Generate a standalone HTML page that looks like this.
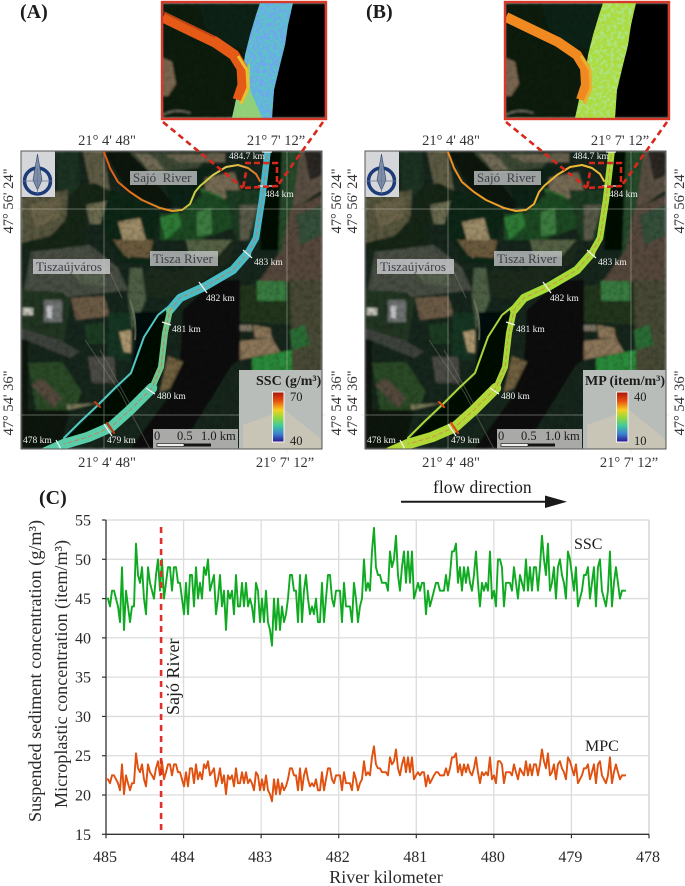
<!DOCTYPE html>
<html lang="en">
<head>
<meta charset="utf-8">
<title>Suspended sediment and microplastic concentration maps</title>
<style>
html,body{margin:0;padding:0;background:#fff;width:685px;height:886px;overflow:hidden}
svg{display:block}
text{font-family:"Liberation Serif","DejaVu Serif",serif;fill:#1c1c1c}
.coord{font-size:14.5px;fill:#333}
.km{font-size:9.5px;fill:#f2f2f2}
.lab{font-size:13px;fill:#3d3d46}
.tick{font-size:16px;fill:#2a2a2a}
.title{font-size:18px;fill:#2a2a2a}
</style>
</head>
<body>
<svg id="figure" xmlns="http://www.w3.org/2000/svg" width="685" height="886" viewBox="0 0 685 886">
<defs>
  <linearGradient id="cbar" x1="0" y1="0" x2="0" y2="1">
    <stop offset="0" stop-color="#a81408"/><stop offset=".18" stop-color="#e8500f"/><stop offset=".36" stop-color="#f4d020"/>
    <stop offset=".52" stop-color="#8fd840"/><stop offset=".68" stop-color="#3fc8a0"/><stop offset=".84" stop-color="#3c80d0"/><stop offset="1" stop-color="#2a1490"/>
  </linearGradient>
  <linearGradient id="sajo-a" gradientUnits="userSpaceOnUse" x1="105" y1="153" x2="260" y2="180">
    <stop offset="0" stop-color="#e05a18"/><stop offset=".45" stop-color="#e88a20"/><stop offset=".6" stop-color="#c8d040"/><stop offset=".8" stop-color="#e0c850"/><stop offset="1" stop-color="#e06a20"/>
  </linearGradient>
  <linearGradient id="sajo-b" gradientUnits="userSpaceOnUse" x1="105" y1="153" x2="260" y2="180">
    <stop offset="0" stop-color="#ee8a20"/><stop offset=".6" stop-color="#eeb030"/><stop offset="1" stop-color="#f0c040"/>
  </linearGradient>
  <filter id="soft" x="-2%" y="-2%" width="104%" height="104%"><feGaussianBlur stdDeviation="1.1"/></filter>
  <filter id="tex" x="0" y="0" width="100%" height="100%">
    <feTurbulence type="fractalNoise" baseFrequency="0.2" numOctaves="3" seed="4"/>
    <feColorMatrix type="matrix" values="0 0 0 0 0  0 0 0 0 0  0 0 0 0 0  1.6 0 0 0 -0.62"/>
  </filter>
  <filter id="speck-a" x="0" y="0" width="100%" height="100%">
    <feTurbulence type="fractalNoise" baseFrequency="0.3" numOctaves="2" seed="7"/>
    <feColorMatrix type="matrix" values="0 0 0 0 .16  0 0 0 0 .38  0 0 0 0 .85  6 0 0 0 -2.6"/>
    <feComposite in2="SourceAlpha" operator="in"/>
    <feMerge><feMergeNode in="SourceGraphic"/><feMergeNode/></feMerge>
  </filter>
  <filter id="speck-b" x="0" y="0" width="100%" height="100%">
    <feTurbulence type="fractalNoise" baseFrequency="0.28" numOctaves="2" seed="9"/>
    <feColorMatrix type="matrix" values="0 0 0 0 .42  0 0 0 0 .76  0 0 0 0 .22  5 0 0 0 -2.3"/>
    <feComposite in2="SourceAlpha" operator="in"/>
    <feMerge><feMergeNode in="SourceGraphic"/><feMergeNode/></feMerge>
  </filter>
  <clipPath id="panel-clip"><rect x="21" y="151" width="301" height="298"/></clipPath>
  <clipPath id="inset-clip"><rect x="162" y="3" width="164" height="115"/></clipPath>

  <path id="tisza-upper" d="M268,148 L262,200 L256,238 L247,254"/>
  <path id="tisza-mid" d="M247,254 L233,270 L204,287 L180,298 L170,310"/>
  <path id="tisza-narrow" d="M170,310 L165,333 L161,367 L152,388"/>
  <path id="tisza-lower" d="M152,388 L130,410 L111,427 L88,437 L64,444 L46,452"/>
  <path id="tisza-center" d="M268,148 L262,200 L256,238 L247,254 L233,270 L204,287 L180,298 L170,310 L165,333 L161,367 L152,388 L130,410 L111,427 L88,437 L64,444"/>
  <path id="channel-path" d="M168,307 L158,315 L144,337 L131,373 L115,388 L98,405 L80,422 L64,438"/>
  <path id="sajo-path" d="M104,152 L110,168 L118,182 L130,192 L142,200 L160,208 L172,211 L182,210 L190,204 L195,192 L200,186 L213,175 L226,167 L238,165 L248,168 L256,174 L260,181"/>
  <path id="sajo-inset" d="M163,17 L190,30 L215,42 L234,55 L242,68 L243,85 L238,100"/>

  <g id="map-bg" clip-path="url(#panel-clip)">
    <g filter="url(#soft)">
      <rect x="21" y="151" width="301" height="298" fill="#16261a"/>
      <polygon points="55,151 78,151 80,185 60,206" fill="#1c3020"/>
      <polygon points="83,151 103,151 110,190 90,185" fill="#5c5a42"/>
      <polygon points="21,197 68,190 66,225 45,240 21,243" fill="#56553e"/>
      <polygon points="30,205 60,198 60,218 35,228" fill="#6b6349"/>
      <polygon points="78,187 95,183 112,192 118,205 95,205 85,222 85,245 62,250 41,250 21,250 21,243 50,236 64,222" fill="#132817"/>
      <polygon points="86,205 112,200 127,215 112,224 90,224" fill="#6a6a50"/>
      <polygon points="104,151 130,151 170,200 172,210 130,195" fill="#0c1810"/>
      <polygon points="130,153 190,153 205,160 195,172 150,172" fill="#3c4a34"/>
      <polygon points="135,153 152,155 165,170 148,170" fill="#6f6a55"/>
      <polygon points="165,155 225,153 225,162 180,162" fill="#6a6350"/>
      <polygon points="160,172 215,166 197,190 185,206 172,206" fill="#0f2016"/>
      <polygon points="110,190 140,200 160,212 150,265 122,262 100,225" fill="#102618"/>
      <polygon points="118,222 140,218 148,248 128,258" fill="#9c8c68"/>
      <polygon points="205,178 234,172 240,190 222,200 205,195" fill="#756a52"/>
      <polygon points="200,188 222,196 226,208 208,212" fill="#2a6a30"/>
      <polygon points="160,214 180,214 205,192 240,205 240,225 200,240 160,240" fill="#1c4a24"/>
      <polygon points="197,212 211,208 212,234 197,236" fill="#3d7c3f"/>
      <polygon points="160,218 178,212 182,226 165,240" fill="#2f7a34"/>
      <polygon points="225,190 262,190 258,240 236,240" fill="#1c3a20"/>
      <polygon points="240,205 258,205 248,240 240,240" fill="#5a5a48"/>
      <polygon points="264,151 285,151 283,250 260,250" fill="#040706"/>
      <polygon points="282,151 300,151 292,250 278,258" fill="#264a2a"/>
      <polygon points="300,151 322,151 322,190 292,210" fill="#5a5042"/>
      <polygon points="304,151 322,151 322,175 310,180" fill="#2c2620"/>
      <polygon points="290,210 322,195 322,290 252,290 282,250" fill="#54463a"/>
      <polygon points="296,215 322,205 322,235 300,245" fill="#34503a"/>
      <polygon points="238,286 290,282 296,325 240,322" fill="#22361f"/>
      <polygon points="257,281 286,281 286,301 257,301" fill="#397a40"/>
      <polygon points="290,280 322,280 322,372 292,372" fill="#464836"/>
      <polygon points="217,325 252,325 252,331 217,331" fill="#7c7464"/>
      <polygon points="253,325 270,328 272,338 255,338" fill="#8a7458"/>
      <polygon points="230,342 272,338 280,352 238,360" fill="#8a7458"/>
      <polygon points="252,358 292,350 292,372 252,372" fill="#2c8a3a"/>
      <polygon points="290,330 305,325 310,345 292,350" fill="#2c6c36"/>
      <polygon points="215,280 240,280 240,360 238,375 205,440 180,449 130,449 170,395 180,360 183,310" fill="#090f0a"/>
      <polygon points="232,365 240,360 240,430 195,449 180,449" fill="#14281a"/>
      <polygon points="175,272 195,265 215,250 225,240 235,240 230,262 190,290 172,298 150,298 138,285 150,268" fill="#1a2c1c"/>
      <polygon points="186,240 232,240 218,256 190,256" fill="#566244"/>
      <polygon points="113,240 153,240 150,258 125,256" fill="#6a5a3c"/>
      <polygon points="130,268 142,268 146,300 132,330 128,295" fill="#4e5e44"/>
      <polygon points="31,252 90,245 118,268 128,290 62,298 24,290" fill="#474d42"/>
      <polygon points="60,262 100,262 108,286 82,284" fill="#555f4e"/>
      <polygon points="21,290 62,292 71,300 64,343 21,332" fill="#243424"/>
      <polygon points="71,298 104,296 110,316 76,320" fill="#6a5a44"/>
      <polygon points="44,300 62,300 62,322 44,322" fill="#6e7270"/>
      <polygon points="47,306 52,306 52,318 47,318" fill="#c4c8c8"/>
      <polygon points="23,308 33,308 33,315 23,315" fill="#c8c8be"/>
      <polygon points="21,328 60,340 80,352 70,358 21,338" fill="#3e423c"/>
      <polygon points="84,325 104,322 106,344 88,344" fill="#1c3a20"/>
      <polygon points="108,313 131,313 131,360 108,360" fill="#183420"/>
      <polygon points="119,332 131,330 131,353 124,352" fill="#ac9670"/>
      <polygon points="134,312 160,312 165,340 160,380 150,392 130,375 136,340" fill="#060a07"/>
      <polygon points="168,310 158,318 144,340 131,375 98,407 64,440 110,430 151,392 161,367 165,335" fill="#050806"/>
      <polygon points="88,357 114,357 116,383 92,383" fill="#4c4c44"/>
      <polygon points="28,363 62,362 82,392 74,410 36,410" fill="#2c4a28"/>
      <polygon points="31,385 42,378 62,398 54,408" fill="#54493c"/>
      <polygon points="21,340 28,340 28,449 21,449" fill="#0e180f"/>
      <polygon points="168,356 183,362 170,388 160,392" fill="#70603f"/>
      <polygon points="66,405 98,403 68,410" fill="#7c7a5c"/>
      <polygon points="21,410 70,410 60,449 21,449" fill="#0c150d"/>
    </g>
    <rect x="21" y="151" width="301" height="298" filter="url(#tex)" opacity=".26"/>
    <path d="M60,272 L108,268 L122,298 M85,340 L120,392 L150,449 M100,350 L132,408" fill="none" stroke="#77766a" stroke-width="1" opacity=".55"/>
    <path d="M130,300 Q137,320 135,340" fill="none" stroke="#7c826c" stroke-width="2" opacity=".6"/>
  </g>

  <g id="map-grid" stroke="#d8d8d0" stroke-width=".7" opacity=".55" fill="none">
    <path d="M104,147 V453 M287,147 V453 M17,209 H326 M17,415 H326"/>
  </g>

  <g id="river-ticks" stroke="#f4f4f4" stroke-width="1.2" fill="none">
    <path d="M243,250 L252,258 M199,282 L207,293 M162,322 L171,325 M146,388 L155,394 M104,424 L112,436 M56,440 L62,451"/>
    <path d="M258,186 L272,186 M262,152 L272,152"/>
  </g>

  <g id="km-labels">
    <text class="km" x="229" y="159">484.7 km</text>
    <text class="km" x="265" y="197">484 km</text>
    <text class="km" x="254" y="265">483 km</text>
    <text class="km" x="206" y="301">482 km</text>
    <text class="km" x="172" y="332">481 km</text>
    <text class="km" x="157" y="399">480 km</text>
    <text class="km" x="107" y="443">479 km</text>
    <text class="km" x="23" y="443">478 km</text>
  </g>

  <g id="place-labels">
    <rect x="130" y="171" width="67" height="14" fill="#c4c6c8" opacity=".78"/>
    <text class="lab" x="133" y="182">Sajó&#160;&#160;River</text>
    <rect x="150" y="251" width="68" height="15" fill="#c4c6c8" opacity=".78"/>
    <text class="lab" x="153" y="263">Tisza River</text>
    <rect x="33" y="259" width="77" height="15" fill="#c4c6c8" opacity=".85"/>
    <text class="lab" x="36" y="271">Tiszaújváros</text>
  </g>

  <g id="north-badge">
    <rect x="21" y="151" width="34" height="46" fill="#d4d6da"/>
    <circle cx="37.5" cy="181" r="13" fill="none" stroke="#1c3a78" stroke-width="3.5"/>
    <path d="M37.5,154 L33,180 L37.5,190 L42,180 Z" fill="#7c8ca8" stroke="#34466e" stroke-width=".6"/>
    <path d="M23,181 H52 M37.5,168 V194" stroke="#6a7a94" stroke-width=".7"/>
  </g>

  <g id="scale-bar">
    <rect x="153" y="429" width="85" height="20" fill="#a9aaa8"/>
    <text x="154" y="440" font-size="12.5" fill="#333">0</text>
    <text x="177" y="440" font-size="12.5" fill="#333">0.5</text>
    <text x="201" y="440" font-size="12.5" fill="#333">1.0 km</text>
    <rect x="157" y="443.5" width="27" height="3" fill="#eee" stroke="#222" stroke-width=".7"/>
    <rect x="184" y="443.5" width="27" height="3" fill="#151515"/>
  </g>

  <g id="inset-base" clip-path="url(#inset-clip)">
    <g filter="url(#soft)">
      <rect x="162" y="3" width="164" height="115" fill="#0a1a0f"/>
      <polygon points="262,3 326,3 326,118 262,118" fill="#010201"/>
      <polygon points="163,58 172,62 176,84 168,96 163,96" fill="#7a6650"/>
      <path d="M163,115 Q175,108 190,113" fill="none" stroke="#8a8a78" stroke-width="1.2"/>
      <polygon points="198,3 260,3 248,50 228,46 205,28" fill="#0a2012"/>
    </g>
    <rect x="162" y="3" width="110" height="115" filter="url(#tex)" opacity=".2"/>
  </g>

  <polygon id="inset-river" points="260,3 293,3 288,25 285,45 280,65 274,90 272,118 232,118 237,95 242,75 245,55 250,35 256,15"/>
</defs>

<g id="panel-a">
  <use href="#map-bg"/>
  <use href="#map-grid"/>
  <g clip-path="url(#panel-clip)" fill="none" stroke-linejoin="round" stroke-linecap="round">
    <use href="#sajo-path" stroke="url(#sajo-a)" stroke-width="2"/>
    <use href="#channel-path" stroke="#52c8c4" stroke-width="2"/>
    <use href="#tisza-upper" stroke="#46b8ca" stroke-width="6.5"/>
    <use href="#tisza-mid" stroke="#4abcc4" stroke-width="8.5"/>
    <use href="#tisza-narrow" stroke="#6cc88c" stroke-width="6"/>
    <use href="#tisza-lower" stroke="#5acca8" stroke-width="10.5"/>
    <use href="#tisza-center" stroke="#d87050" stroke-width=".8" stroke-dasharray="4 3"/>
    <path d="M107,423 L114,433 M95,402 L100,407" stroke="#b83a18" stroke-width="2.2"/>
  </g>
  <use href="#river-ticks"/>
  <use href="#km-labels"/>
  <use href="#place-labels"/>
  <use href="#north-badge"/>
  <use href="#scale-bar"/>
  <g>
    <rect x="239" y="370" width="83" height="79" fill="#b9bdba"/>
    <polygon points="243,425 285,410 322,440 322,449 243,449" fill="#c9c5b6"/>
    <text x="256" y="385" font-size="14" font-weight="bold" fill="#2a2a2a">SSC (g/m³)</text>
    <rect x="272.5" y="392" width="11.5" height="50" fill="url(#cbar)" stroke="#f4f4f4" stroke-width="1"/>
    <text x="290" y="401" font-size="12.5" fill="#333">70</text>
    <text x="290" y="445" font-size="12.5" fill="#333">40</text>
  </g>
  <rect x="21" y="151" width="301" height="298" fill="none" stroke="#555" stroke-width="1"/>
</g>

<g id="panel-b" transform="translate(344,0)">
  <use href="#map-bg"/>
  <use href="#map-grid"/>
  <g clip-path="url(#panel-clip)" fill="none" stroke-linejoin="round" stroke-linecap="round">
    <use href="#sajo-path" stroke="url(#sajo-b)" stroke-width="2"/>
    <use href="#channel-path" stroke="#a8d63a" stroke-width="2"/>
    <use href="#tisza-upper" stroke="#a6da38" stroke-width="6.5"/>
    <use href="#tisza-mid" stroke="#a6da38" stroke-width="8.5"/>
    <use href="#tisza-narrow" stroke="#a6d838" stroke-width="6"/>
    <use href="#tisza-lower" stroke="#b0d838" stroke-width="10.5"/>
    <use href="#tisza-center" stroke="#e08040" stroke-width=".8" stroke-dasharray="4 3"/>
    <path d="M107,423 L114,433 M95,402 L100,407" stroke="#d84a18" stroke-width="2.2"/>
  </g>
  <use href="#river-ticks"/>
  <use href="#km-labels"/>
  <use href="#place-labels"/>
  <use href="#north-badge"/>
  <use href="#scale-bar"/>
  <g>
    <rect x="239" y="370" width="83" height="79" fill="#b9bdba"/>
    <polygon points="243,425 285,410 322,440 322,449 243,449" fill="#c9c5b6"/>
    <text x="241" y="385" font-size="14" font-weight="bold" fill="#2a2a2a">MP (item/m³)</text>
    <rect x="272.5" y="392" width="11.5" height="50" fill="url(#cbar)" stroke="#f4f4f4" stroke-width="1"/>
    <text x="290" y="401" font-size="12.5" fill="#333">40</text>
    <text x="290" y="445" font-size="12.5" fill="#333">10</text>
  </g>
  <rect x="21" y="151" width="301" height="298" fill="none" stroke="#555" stroke-width="1"/>
</g>

<g>
  <use href="#inset-base"/>
  <g clip-path="url(#inset-clip)">
    <use href="#inset-river" fill="#5cc2c8" filter="url(#speck-a)"/>
    <polygon points="232,118 237,95 242,75 250,62 250,90 262,118" fill="#a0d858" opacity=".75"/>
    <use href="#sajo-inset" fill="none" stroke="#e65a18" stroke-width="11" stroke-linejoin="round"/>
    <path d="M163,12 L190,25 L215,37" fill="none" stroke="#a83a14" stroke-width="2" opacity=".7"/>
    <path d="M238,56 L247,70 L248,88 L241,104" fill="none" stroke="#e8c030" stroke-width="3"/>
  </g>
  <rect x="162" y="2" width="164" height="117" fill="none" stroke="#d83a2a" stroke-width="2.4"/>
</g>
<g transform="translate(343,0)">
  <use href="#inset-base"/>
  <g clip-path="url(#inset-clip)">
    <use href="#inset-river" fill="#acdc3c" filter="url(#speck-b)"/>
    <use href="#sajo-inset" fill="none" stroke="#f08a20" stroke-width="10" stroke-linejoin="round"/>
    <path d="M238,56 L247,70 L248,88 L241,104" fill="none" stroke="#e8b030" stroke-width="3"/>
  </g>
  <rect x="162" y="2" width="164" height="117" fill="none" stroke="#d83a2a" stroke-width="2.4"/>
</g>

<g fill="none" stroke="#d8281e" stroke-width="2.6">
  <path d="M163,122 L243,188 M323,122 L278,185" stroke-dasharray="6 4"/>
  <path d="M245,163 H277 V186 L243,188 L246,172" stroke-dasharray="6 3"/>
  <path d="M506,122 L587,188 M667,122 L622,185" stroke-dasharray="6 4"/>
  <path d="M589,163 H621 V186 L587,188 L590,172" stroke-dasharray="6 3"/>
</g>

<text x="20" y="18" font-size="20" font-weight="bold">(A)</text>
<text x="366" y="18" font-size="20" font-weight="bold">(B)</text>
<text x="39" y="504" font-size="20" font-weight="bold">(C)</text>

<g text-anchor="middle">
  <text class="coord" x="107" y="145">21° 4' 48"</text>
  <text class="coord" x="276" y="145">21° 7' 12”</text>
  <text class="coord" x="107" y="467">21° 4' 48"</text>
  <text class="coord" x="285" y="467">21° 7' 12”</text>
  <text class="coord" x="451" y="145">21° 4' 48"</text>
  <text class="coord" x="620" y="145">21° 7' 12”</text>
  <text class="coord" x="451" y="467">21° 4' 48"</text>
  <text class="coord" x="629" y="467">21° 7' 12”</text>
  <text class="coord" transform="translate(13,201) rotate(-90)">47° 56' 24"</text>
  <text class="coord" transform="translate(13,403) rotate(-90)">47° 54' 36"</text>
  <text class="coord" transform="translate(341,201) rotate(-90)">47° 56' 24"</text>
  <text class="coord" transform="translate(341,403) rotate(-90)">47° 54' 36"</text>
  <text class="coord" transform="translate(357,201) rotate(-90)">47° 56' 24"</text>
  <text class="coord" transform="translate(357,403) rotate(-90)">47° 54' 36"</text>
  <text class="coord" transform="translate(684,201) rotate(-90)">47° 56' 24"</text>
  <text class="coord" transform="translate(684,403) rotate(-90)">47° 54' 36"</text>
</g>

<g id="chart"></g>
<g>
  <text x="433" y="493" font-size="17.5" fill="#1c1c1c">flow direction</text>
  <path d="M401,501.7 H548" stroke="#1a1a1a" stroke-width="2"/>
  <polygon points="545,495.5 567,501.7 545,508" fill="#1a1a1a"/>
  <text x="574" y="549" font-size="16">SSC</text>
  <text x="585" y="751" font-size="16">MPC</text>
  <text transform="translate(179,715) rotate(-90)" font-size="18">Sajó River</text>
  <text class="title" transform="translate(41,671) rotate(-90)" text-anchor="middle" textLength="302" lengthAdjust="spacingAndGlyphs">Suspended sediment concentration (g/m³)</text>
  <text class="title" transform="translate(67,674) rotate(-90)" text-anchor="middle" textLength="268" lengthAdjust="spacingAndGlyphs">Microplastic concentration (item/m³)</text>
  <text class="title" x="386" y="883" text-anchor="middle">River kilometer</text>
</g>
</svg>

<script>
const xTickLabels = [485, 484, 483, 482, 481, 480, 479, 478];
const yTickLabels = [15, 20, 25, 30, 35, 40, 45, 50, 55];
const startKm = 485;
const kmStep = 0.02578;
const sajoConfluenceKm = 484.29;
const sscValues = [
45,45,44,46,46,45,44,42,49,41,
46,44,42,44,44,52,48,47,49,45,
43,49,47,46,45,48,50,46,50,45,
47,49,49,46,49,49,47,47,45,43,
47,43,48,48,44,49,45,47,45,49,
48,50,46,47,48,43,45,48,44,46,
41,46,45,46,43,48,44,44,47,44,
47,44,45,44,42,47,46,42,45,42,
46,42,41,39,45,41,45,41,44,42,
43,45,48,48,46,46,42,48,42,46,
48,45,43,44,43,45,42,42,47,42,
45,48,48,45,44,46,46,46,42,47,
44,44,44,42,47,45,42,44,45,50,
46,47,46,51,54,49,48,48,47,47,
47,46,51,49,50,53,48,46,49,51,
47,51,47,51,45,46,47,46,47,47,
43,46,44,45,46,47,47,46,46,46,
48,46,48,51,51,52,47,49,46,49,
47,49,47,46,48,51,47,44,47,46,
47,46,51,45,46,44,50,50,49,44,
47,47,47,46,49,47,45,48,47,46,
50,46,49,46,49,49,46,49,53,50,
48,52,46,47,49,45,49,50,48,47,
45,51,50,48,46,49,44,45,46,48,
48,49,45,47,49,44,49,50,46,45,
44,46,51,44,47,49,47,45,46,46,46
];
const mpcValues = [
22.0,22.0,21.5,22.5,22.5,22.0,21.5,20.6,23.9,20.1,
22.5,21.5,20.6,21.5,21.5,25.3,23.4,22.9,23.9,22.0,
21.1,23.9,22.9,22.5,22.0,23.4,24.3,22.5,24.3,22.0,
22.9,23.9,23.9,22.5,23.9,23.9,22.9,22.9,22.0,21.1,
22.9,21.1,23.4,23.4,21.5,23.9,22.0,22.9,22.0,23.9,
23.4,24.3,22.5,22.9,23.4,21.1,22.0,23.4,21.5,22.5,
20.1,22.5,22.0,22.5,21.1,23.4,21.5,21.5,22.9,21.5,
22.9,21.5,22.0,21.5,20.6,22.9,22.5,20.6,22.0,20.6,
22.5,20.6,20.1,19.2,22.0,20.1,22.0,20.1,21.5,20.6,
21.1,22.0,23.4,23.4,22.5,22.5,20.6,23.4,20.6,22.5,
23.4,22.0,21.1,21.5,21.1,22.0,20.6,20.6,22.9,20.6,
22.0,23.4,23.4,22.0,21.5,22.5,22.5,22.5,20.6,22.9,
21.5,21.5,21.5,20.6,22.9,22.0,20.6,21.5,22.0,24.3,
22.5,22.9,22.5,24.8,26.2,23.9,23.4,23.4,22.9,22.9,
22.9,22.5,24.8,23.9,24.3,25.8,23.4,22.5,23.9,24.8,
22.9,24.8,22.9,24.8,22.0,22.5,22.9,22.5,22.9,22.9,
21.1,22.5,21.5,22.0,22.5,22.9,22.9,22.5,22.5,22.5,
23.4,22.5,23.4,24.8,24.8,25.3,22.9,23.9,22.5,23.9,
22.9,23.9,22.9,22.5,23.4,24.8,22.9,21.5,22.9,22.5,
22.9,22.5,24.8,22.0,22.5,21.5,24.3,24.3,23.9,21.5,
22.9,22.9,22.9,22.5,23.9,22.9,22.0,23.4,22.9,22.5,
24.3,22.5,23.9,22.5,23.9,23.9,22.5,23.9,25.8,24.3,
23.4,25.3,22.5,22.9,23.9,22.0,23.9,24.3,23.4,22.9,
22.0,24.8,24.3,23.4,22.5,23.9,21.5,22.0,22.5,23.4,
23.4,23.9,22.0,22.9,23.9,21.5,23.9,24.3,22.5,22.0,
21.5,22.5,24.8,21.5,22.9,23.9,22.9,22.0,22.5,22.5,22.5
];

const plotLeft = 106, plotRight = 649, plotTop = 520, plotBottom = 834.3;
function xScale(km) {
  return plotLeft + (485 - km) / (485 - 478) * (plotRight - plotLeft);
}
function yScale(v) {
  return plotBottom - (v - 15) / (55 - 15) * (plotBottom - plotTop);
}
const NS = 'http://www.w3.org/2000/svg';
const chart = document.getElementById('chart');
function svgEl(tag, attrs) {
  const el = document.createElementNS(NS, tag);
  for (const k in attrs) el.setAttribute(k, attrs[k]);
  chart.appendChild(el);
  return el;
}

yTickLabels.forEach(function (v) {
  const y = yScale(v);
  if (v > 15) {
    const g = svgEl('line', { x1: plotLeft, x2: plotRight, y1: y, y2: y, stroke: '#dcdcdc', 'stroke-width': 1.3 });
    
    
  }
  const t = svgEl('line', { x1: plotLeft - 4, x2: plotLeft, y1: y, y2: y, stroke: '#333', 'stroke-width': 1.2 });
  
  
  const l = svgEl('text', { x: 91, y: y + 5.5, 'text-anchor': 'end', class: 'tick' });
  l.textContent = v;
  
  
});
xTickLabels.forEach(function (km) {
  const x = xScale(km);
  if (km < 485) {
    const g = svgEl('line', { x1: x, x2: x, y1: plotTop, y2: plotBottom, stroke: '#dcdcdc', 'stroke-width': km === 478 ? 1.8 : 1.3 });
    
    
  }
  const t = svgEl('line', { x1: x, x2: x, y1: plotBottom, y2: plotBottom + 4, stroke: '#333', 'stroke-width': 1.2 });
  
  
  const l = svgEl('text', { x: x - 1, y: 862, 'text-anchor': 'middle', class: 'tick' });
  l.textContent = km;
  
  
});
const topEdge = svgEl('line', { x1: plotLeft, x2: plotRight, y1: plotTop, y2: plotTop, stroke: '#dcdcdc', 'stroke-width': 1.3 });


const yAxis = svgEl('line', { x1: plotLeft, x2: plotLeft, y1: plotTop, y2: plotBottom, stroke: '#333', 'stroke-width': 1.3 });


const xAxis = svgEl('line', { x1: plotLeft, x2: plotRight, y1: plotBottom, y2: plotBottom, stroke: '#333', 'stroke-width': 1.3 });



function pointsFor(values) {
  return values.map(function (v, i) {
    return xScale(startKm - i * kmStep).toFixed(2) + ',' + yScale(v).toFixed(2);
  }).join(' ');
}
const sscLine = svgEl('polyline', { points: pointsFor(sscValues), fill: 'none', stroke: '#10aa22', 'stroke-width': 1.9, 'stroke-linejoin': 'round' });


const mpcLine = svgEl('polyline', { points: pointsFor(mpcValues), fill: 'none', stroke: '#e0500f', 'stroke-width': 1.9, 'stroke-linejoin': 'round' });


const sajoLine = svgEl('line', { x1: xScale(sajoConfluenceKm), x2: xScale(sajoConfluenceKm), y1: 527, y2: plotBottom, stroke: '#e0302a', 'stroke-width': 2.6, 'stroke-dasharray': '6 5' });


</script>
</body>
</html>
